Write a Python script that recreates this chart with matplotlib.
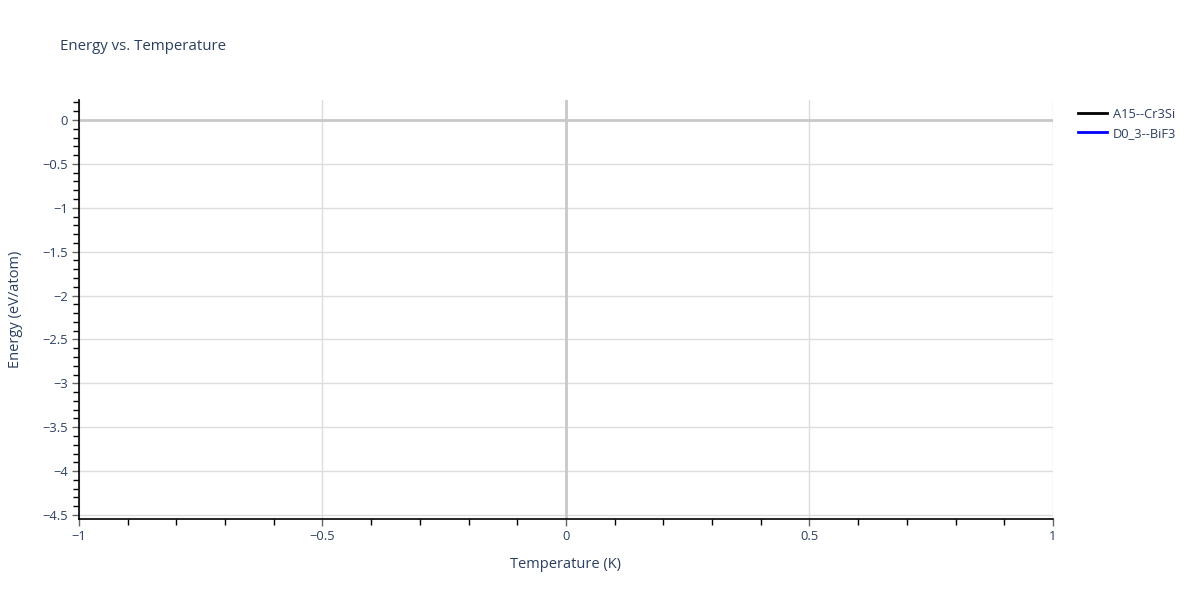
import matplotlib.pyplot as plt
from matplotlib.ticker import MultipleLocator, FuncFormatter

plt.rcParams['font.family'] = ['Open Sans', 'DejaVu Sans']

# Data (both series are empty in the reference chart)
series_names = ['A15--Cr3Si', 'D0_3--BiF3']
series_colors = ['black', 'blue']
temperature = [[], []]
energy = [[], []]

x_range = (-1, 1)
y_range = (-4.546, 0.228)

text_color = '#2a3f5f'
grid_color = '#dcdcdc'


def fmt(v, pos):
    s = f'{v:g}'
    return s.replace('-', '\u2212')


fig = plt.figure(figsize=(12, 6), dpi=100)
ax = fig.add_axes([0.0658, 0.135, 0.8117, 0.6983])

for name, color, t, e in zip(series_names, series_colors, temperature, energy):
    ax.plot(t, e, color=color, linewidth=2, label=name)

ax.set_xlim(*x_range)
ax.set_ylim(*y_range)

ax.xaxis.set_major_locator(MultipleLocator(0.5))
ax.xaxis.set_minor_locator(MultipleLocator(0.1))
ax.yaxis.set_major_locator(MultipleLocator(0.5))
ax.yaxis.set_minor_locator(MultipleLocator(0.1))
ax.xaxis.set_major_formatter(FuncFormatter(fmt))
ax.yaxis.set_major_formatter(FuncFormatter(fmt))

ax.grid(True, which='major', color=grid_color, linewidth=1)
ax.axhline(0, color='#c8c8c8', linewidth=2, zorder=1)
ax.axvline(0, color='#c8c8c8', linewidth=2, zorder=1)
ax.set_axisbelow(True)

for side in ['top', 'right']:
    ax.spines[side].set_visible(False)
for side in ['left', 'bottom']:
    ax.spines[side].set_color('black')
    ax.spines[side].set_linewidth(1.2)

ax.tick_params(which='major', length=5, width=1, color='#666666',
               labelsize=9.3, labelcolor=text_color, pad=3)
ax.tick_params(which='minor', length=4, width=1, color='black')

ax.set_xlabel('Temperature (K)', fontsize=10.5, color=text_color, labelpad=10)
ax.set_ylabel('Energy (eV/atom)', fontsize=10.5, color=text_color, labelpad=14)
fig.text(0.05, 0.923, 'Energy vs. Temperature', fontsize=10.8, color=text_color,
         ha='left', va='center')

ax.legend(loc='upper left', bbox_to_anchor=(1.018, 1.0), frameon=False,
          fontsize=9.3, labelcolor=text_color, handlelength=2.2,
          handletextpad=0.5, labelspacing=0.45, borderaxespad=0.2)

fig.savefig('out.png', dpi=100)
